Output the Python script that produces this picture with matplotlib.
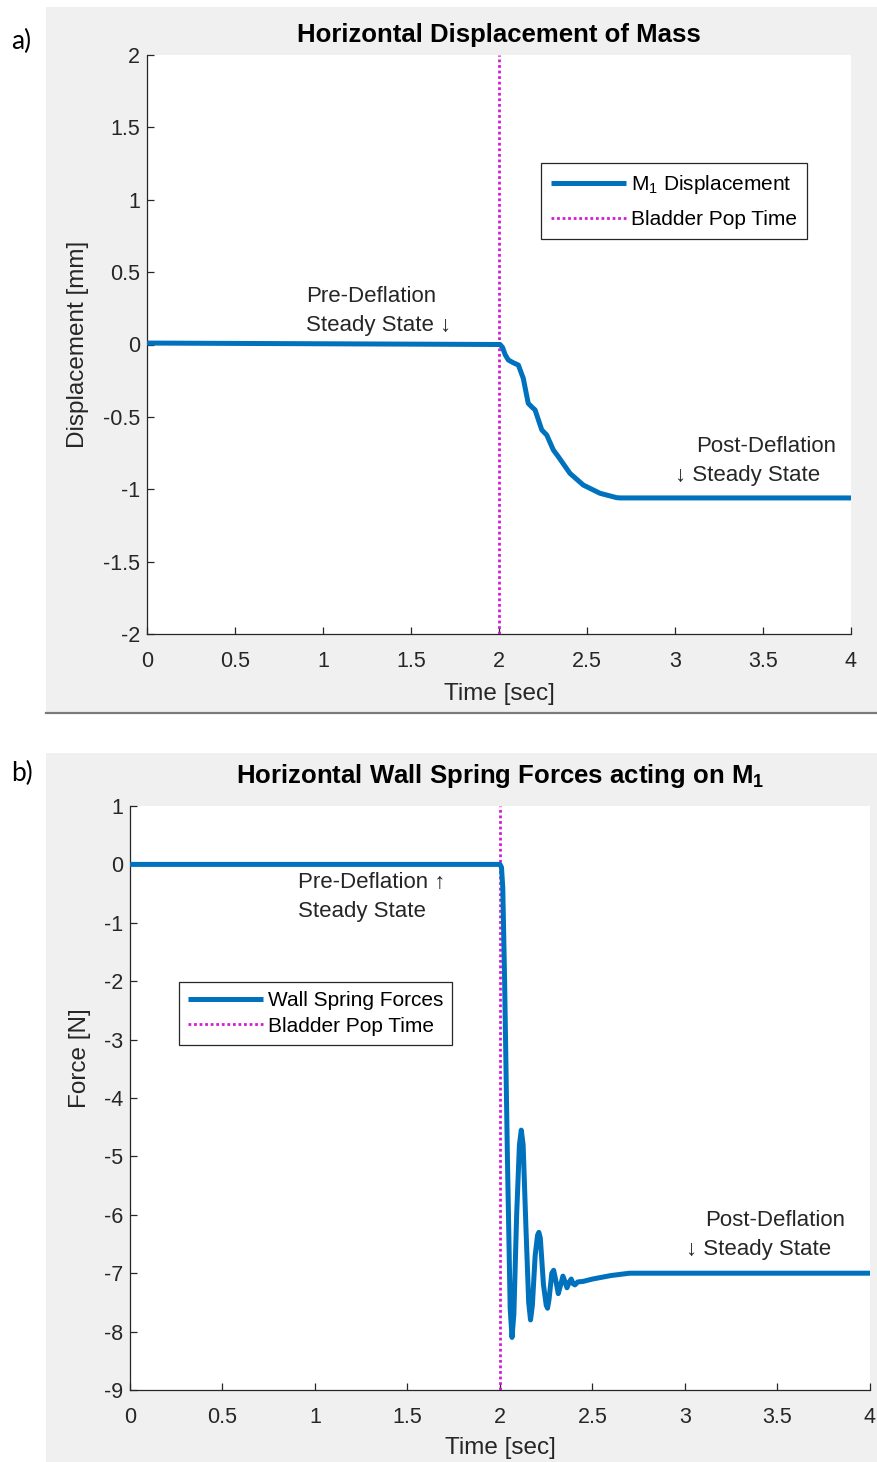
import matplotlib
matplotlib.use("Agg")
import matplotlib.pyplot as plt
from matplotlib.patches import Rectangle
from matplotlib.lines import Line2D

plt.rcParams['font.family'] = ['Liberation Sans', 'DejaVu Sans']
plt.rcParams['mathtext.default'] = 'regular'

# ---------------- data ----------------
# Panel a: horizontal displacement of mass [mm]
time_a = [0.0, 2.0, 2.006, 2.02, 2.035, 2.053, 2.081, 2.11, 2.138, 2.166, 2.185,
          2.205, 2.243, 2.271, 2.309, 2.337, 2.403, 2.479, 2.574, 2.668, 2.69, 4.0]
disp_a = [0.01, 0.0, 0.0, -0.02, -0.07, -0.107, -0.126, -0.142, -0.234, -0.406, -0.43,
          -0.452, -0.59, -0.625, -0.729, -0.775, -0.89, -0.971, -1.028, -1.058, -1.06, -1.06]

# Panel b: wall spring forces [N]
time_b = [0.0, 2.0, 2.008, 2.015, 2.025, 2.04, 2.055, 2.065, 2.075, 2.09, 2.105, 2.115,
          2.125, 2.14, 2.155, 2.165, 2.175, 2.19, 2.203, 2.21, 2.218, 2.235, 2.25, 2.257,
          2.265, 2.28, 2.29, 2.30, 2.315, 2.328, 2.34, 2.352, 2.362, 2.375, 2.385, 2.395,
          2.405, 2.42, 2.45, 2.5, 2.55, 2.6, 2.65, 2.7, 2.75, 4.0]
force_b = [0.0, 0.0, -0.05, -0.4, -2.0, -5.0, -7.6, -8.1, -7.7, -6.0, -4.8, -4.55,
           -4.8, -6.2, -7.5, -7.8, -7.55, -6.7, -6.35, -6.3, -6.4, -7.2, -7.55, -7.6,
           -7.45, -7.0, -6.95, -7.1, -7.35, -7.2, -7.05, -7.15, -7.25, -7.15, -7.1, -7.18,
           -7.2, -7.15, -7.14, -7.1, -7.07, -7.04, -7.02, -7.0, -7.0, -7.0]

pop_time = 2.0

xticks = [0, 0.5, 1, 1.5, 2, 2.5, 3, 3.5, 4]
xtick_labels = ['0', '0.5', '1', '1.5', '2', '2.5', '3', '3.5', '4']
yticks_a = [2, 1.5, 1, 0.5, 0, -0.5, -1, -1.5, -2]
ytick_labels_a = ['2', '1.5', '1', '0.5', '0', '-0.5', '-1', '-1.5', '-2']
yticks_b = [1, 0, -1, -2, -3, -4, -5, -6, -7, -8, -9]
ytick_labels_b = ['1', '0', '-1', '-2', '-3', '-4', '-5', '-6', '-7', '-8', '-9']

# ---------------- styles ----------------
BLUE = '#0072BD'
MAG = '#d21ed2'
TXT = '#262626'
GRAY = '#f0f0f0'
W, H = 878, 1462
TICK_FS = 15.5
LABEL_FS = 17.5
TITLE_FS = 18.5
ANN_FS = 16
LEG_FS = 15

fig = plt.figure(figsize=(W / 100, H / 100), dpi=100)
fig.patch.set_facecolor('white')


def fx(px):
    return px / W


def fy(py):
    return 1 - py / H


# gray panel backgrounds
fig.patches.append(Rectangle((fx(46), fy(712)), fx(878 - 46), (712 - 7) / H,
                             transform=fig.transFigure, facecolor=GRAY, edgecolor='none', zorder=-10))
fig.add_artist(Line2D([fx(46), fx(878)], [fy(712.5), fy(712.5)], transform=fig.transFigure,
                      color='#7a7a7a', lw=1.6, zorder=-9))
fig.patches.append(Rectangle((fx(46), fy(1462)), fx(878 - 46), (1462 - 753) / H,
                             transform=fig.transFigure, facecolor=GRAY, edgecolor='none', zorder=-10))

fig.text(fx(11), fy(41), 'a)', fontsize=19, family=['Lato', 'DejaVu Sans'], va='center', ha='left')
fig.text(fx(11), fy(773), 'b)', fontsize=19, family=['Lato', 'DejaVu Sans'], va='center', ha='left')


def style_axes(ax):
    for s in ['top', 'right']:
        ax.spines[s].set_visible(False)
    for s in ['left', 'bottom']:
        ax.spines[s].set_color(TXT)
        ax.spines[s].set_linewidth(0.9)
    ax.tick_params(direction='in', length=5, width=0.9, colors=TXT, labelsize=TICK_FS,
                   top=False, right=False)
    ax.tick_params(axis='x', pad=12)
    ax.tick_params(axis='y', pad=5)
    ax.set_facecolor('white')


# ---------------- panel a ----------------
ax1 = fig.add_axes([fx(147), fy(634), fx(851 - 147), (634 - 55) / H])
style_axes(ax1)
ax1.plot(time_a, disp_a, color=BLUE, lw=3.6, solid_joinstyle='round', solid_capstyle='butt',
         label='M$_1$ Displacement', zorder=3)
ax1.axvline(pop_time, color=MAG, lw=2.0, ls=(0, (1, 1)), label='Bladder Pop Time', zorder=2)
ax1.set_xlim(0, 4)
ax1.set_ylim(-2, 2)
ax1.set_xticks(xticks)
ax1.set_xticklabels(xtick_labels)
ax1.set_yticks(yticks_a)
ax1.set_yticklabels(ytick_labels_a)
ax1.set_xlabel('Time [sec]', fontsize=LABEL_FS, color=TXT)
ax1.set_ylabel('Displacement [mm]', fontsize=LABEL_FS, color=TXT)
ax1.xaxis.set_label_coords(0.5, (634 - 694) / 579, transform=ax1.transAxes)
ax1.yaxis.set_label_coords((78 - 147) / 704, 0.5, transform=ax1.transAxes)
ax1.xaxis.label.set_va('center')
ax1.yaxis.label.set_va('center')
ax1.text(0.5, (634 - 35) / 579, 'Horizontal Displacement of Mass', transform=ax1.transAxes,
         ha='center', va='center', fontsize=TITLE_FS, fontweight='bold', color='black')
ax1.text((306 - 147) / 176, (344.5 - 296) / 144.75, 'Pre-Deflation', fontsize=ANN_FS, color=TXT,
         ha='left', va='center')
ax1.text((306 - 147) / 176, (344.5 - 325) / 144.75, 'Steady State \u2193', fontsize=ANN_FS, color=TXT,
         ha='left', va='center')
ax1.text((696 - 147) / 176, (344.5 - 446) / 144.75, 'Post-Deflation', fontsize=ANN_FS, color=TXT,
         ha='left', va='center')
ax1.text((675 - 147) / 176, (344.5 - 476) / 144.75, '\u2193 Steady State', fontsize=ANN_FS, color=TXT,
         ha='left', va='center')
leg1 = ax1.legend(loc='upper left', bbox_to_anchor=((541 - 147) / 704, (634 - 163) / 579),
                  borderaxespad=0, fancybox=False, framealpha=1, edgecolor='#262626',
                  fontsize=LEG_FS, handlelength=3.6, handletextpad=0.2, labelspacing=0.65,
                  borderpad=0.5)
leg1.get_frame().set_linewidth(0.9)

# ---------------- panel b ----------------
ax2 = fig.add_axes([fx(130), fy(1390), fx(870 - 130), (1390 - 806) / H])
style_axes(ax2)
ax2.plot(time_b, force_b, color=BLUE, lw=3.6, solid_joinstyle='round', solid_capstyle='butt',
         label='Wall Spring Forces', zorder=3, clip_on=False)
ax2.axvline(pop_time, color=MAG, lw=2.0, ls=(0, (1, 1)), label='Bladder Pop Time', zorder=2)
ax2.set_xlim(0, 4)
ax2.set_ylim(-9, 1)
ax2.set_xticks(xticks)
ax2.set_xticklabels(xtick_labels)
ax2.set_yticks(yticks_b)
ax2.set_yticklabels(ytick_labels_b)
ax2.set_xlabel('Time [sec]', fontsize=LABEL_FS, color=TXT)
ax2.set_ylabel('Force [N]', fontsize=LABEL_FS, color=TXT)
ax2.xaxis.set_label_coords(0.5, (1390 - 1448) / 584, transform=ax2.transAxes)
ax2.yaxis.set_label_coords((80 - 130) / 740, (1390 - 1058) / 584, transform=ax2.transAxes)
ax2.xaxis.label.set_va('center')
ax2.yaxis.label.set_va('center')
ax2.text(0.5, (1390 - 776) / 584, 'Horizontal Wall Spring Forces acting on M$_1$', transform=ax2.transAxes,
         ha='center', va='center', fontsize=TITLE_FS, fontweight='bold', color='black')
ax2.text((298 - 130) / 185, (866 - 884) / 58.2, 'Pre-Deflation \u2191', fontsize=ANN_FS, color=TXT,
         ha='left', va='center')
ax2.text((298 - 130) / 185, (866 - 913) / 58.2, 'Steady State', fontsize=ANN_FS, color=TXT,
         ha='left', va='center')
ax2.text((705 - 130) / 185, (866 - 1221) / 58.2, 'Post-Deflation', fontsize=ANN_FS, color=TXT,
         ha='left', va='center')
ax2.text((686 - 130) / 185, (866 - 1250) / 58.2, '\u2193 Steady State', fontsize=ANN_FS, color=TXT,
         ha='left', va='center')
leg2 = ax2.legend(loc='upper left', bbox_to_anchor=((179 - 130) / 740, (1390 - 982) / 584),
                  borderaxespad=0, fancybox=False, framealpha=1, edgecolor='#262626',
                  fontsize=LEG_FS, handlelength=3.6, handletextpad=0.2, labelspacing=0.3,
                  borderpad=0.45)
leg2.get_frame().set_linewidth(0.9)

fig.savefig('out.png', dpi=100, facecolor='white')
